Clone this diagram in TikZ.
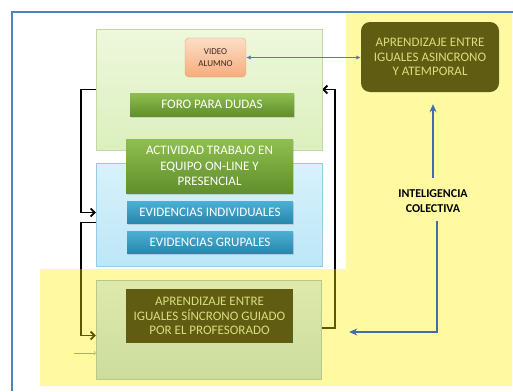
\documentclass[tikz,border=0pt]{standalone}
\usepackage{fontspec}
\setmainfont{Carlito}
\usetikzlibrary{arrows.meta}
\usetikzlibrary{shadows}
\definecolor{frameblue}{RGB}{79,129,189}
\definecolor{linkblue}{RGB}{66,108,170}
\definecolor{darkolive}{RGB}{96,92,18}
\definecolor{palecream}{RGB}{218,222,125}
\pgfdeclarelayer{back}
\pgfdeclarelayer{tint}
\pgfsetlayers{back,tint,main}
\tikzset{
    frameline/.style = {draw=frameblue, line width=1.5pt},
    panelg/.style = {rectangle, draw={rgb,255:red,196;green,216;blue,164}, top color={rgb,255:red,238;green,248;blue,220}, bottom color={rgb,255:red,220;green,239;blue,190}},
    panelb/.style = {rectangle, draw={rgb,255:red,150;green,204;blue,226}, top color={rgb,255:red,216;green,242;blue,251}, bottom color={rgb,255:red,188;green,230;blue,247}},
    panely/.style = {rectangle, draw={rgb,255:red,182;green,200;blue,140}, top color={rgb,255:red,222;green,233;blue,172}, bottom color={rgb,255:red,204;green,221;blue,156}},
    boxg/.style = {rectangle, align=center, text=white, inner sep=0pt, top color={rgb,255:red,143;green,190;blue,80}, bottom color={rgb,255:red,96;green,143;blue,44}, drop shadow={opacity=0.25,shadow xshift=1pt,shadow yshift=-1.5pt}, font=\fontsize{13}{15.5}\selectfont},
    boxb/.style = {rectangle, align=center, text=white, inner sep=0pt, top color={rgb,255:red,76;green,176;blue,212}, bottom color={rgb,255:red,42;green,134;blue,174}, drop shadow={opacity=0.25,shadow xshift=1pt,shadow yshift=-1.5pt}, font=\fontsize{13}{15}\selectfont},
    boxo/.style = {rectangle, align=center, text=palecream, inner sep=0pt, fill=darkolive, font=\fontsize{13}{14.5}\selectfont},
    boxvideo/.style = {rectangle, rounded corners=4pt, align=center, inner sep=0pt, draw={rgb,255:red,232;green,160;blue,112}, top color={rgb,255:red,252;green,222;blue,198}, bottom color={rgb,255:red,246;green,172;blue,124}, text={rgb,255:red,60;green,40;blue,30}, font=\fontsize{9}{12}\selectfont},
    loopline/.style = {-{Straight Barb[length=4pt,width=8pt]}, line width=1.8pt, black},
    dblarrow/.style = {{Latex[length=4.5pt,width=4.5pt]}-{Latex[length=4.5pt,width=4.5pt]}, line width=1.5pt, linkblue!90!white},
    bluearrow/.style = {-{Stealth[length=8pt,width=7pt]}, line width=2.2pt, linkblue},
    hintline/.style = {-{To[length=2pt]}, line width=0.5pt, gray!70},
    tint/.style = {fill=yellow, opacity=0.37}
}
\begin{document}
\begin{tikzpicture}[x=1pt,y=-1pt]
\useasboundingbox (0,0) rectangle (513,391);
% outer frame
\draw[frameline] (12,391) -- (12,12) -- (513,12);
%
\node[panelg, minimum width=226, minimum height=121] at (209,89.5) (online) {};
\node[panelb, minimum width=226, minimum height=103] at (209,214.5) (evidbox) {};
\node[panely, minimum width=225, minimum height=99] at (208.5,329.5) (presencial) {};
%
\node[boxvideo, minimum width=61, minimum height=39] at (215.5,57.5) (video) {VIDEO\\ALUMNO};
\node[boxg, minimum width=164, minimum height=23] at (212,104.5) (foro) {FORO PARA DUDAS};
\node[boxg, minimum width=167, minimum height=54] at (209.5,166) (actividad) {ACTIVIDAD TRABAJO EN\\EQUIPO ON-LINE Y\\PRESENCIAL};
\node[boxb, minimum width=166, minimum height=22] at (210,212) (indiv) {EVIDENCIAS INDIVIDUALES};
\node[boxb, minimum width=166, minimum height=22] at (210,242) (grupal) {EVIDENCIAS GRUPALES};
\node[boxo, minimum width=167, minimum height=54] at (209.5,316) (sincrono) {APRENDIZAJE ENTRE\\IGUALES SÍNCRONO GUIADO\\POR EL PROFESORADO};
\node[boxo, rounded corners=9pt, minimum width=138, minimum height=70] at (430,57) (asincrono) {APRENDIZAJE ENTRE\\IGUALES ASINCRONO\\Y ATEMPORAL};
\node[align=center, font=\fontsize{12}{15}\selectfont\bfseries] at (433,201) (intel) {INTELIGENCIA\\COLECTIVA};
%
\begin{pgfonlayer}{back}
\draw[loopline] (online.west) -- ++(-15,0) |- ([yshift=2pt]evidbox.west);
\draw[loopline] ([yshift=-8pt]evidbox.west) -- ++(-15,0) |- ([yshift=-6pt]presencial.west);
\draw[loopline] ([yshift=1.5pt]presencial.east) -- ++(14,0) |- (online.east);
\end{pgfonlayer}
\begin{pgfonlayer}{tint}
\fill[tint] (346,13) -- (512,13) -- (512,386) -- (40,386) -- (40,269) -- (346,269) -- cycle;
\end{pgfonlayer}
%
\draw[dblarrow] (video.east) -- (video.east -| asincrono.west);
\draw[bluearrow, shorten <=8pt, shorten >=12pt] (intel.north) -- (intel.north |- asincrono.south);
\draw[bluearrow, shorten <=5pt] ([xshift=4pt]intel.south) |- ([xshift=28pt,yshift=-2.5pt]presencial.east);
\draw[hintline] ([xshift=-22pt,yshift=-23.5pt]presencial.west) -- ([yshift=-23.5pt]presencial.west);

\end{tikzpicture}
\end{document}
